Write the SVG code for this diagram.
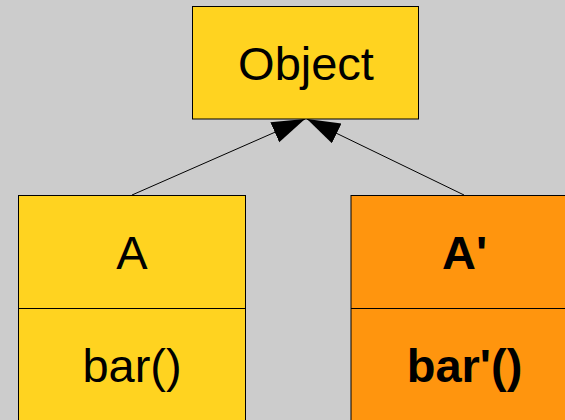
<svg xmlns="http://www.w3.org/2000/svg" width="565" height="420" viewBox="0 0 565 420">
<style>
.box{stroke:#000;stroke-width:1}
.y{fill:#ffd320}
.o{fill:#ff950e}
.t{font-family:"Liberation Sans",Arial,sans-serif;font-size:47px;fill:#000;text-anchor:middle}
.b{font-weight:bold}
.conn{stroke:#000;stroke-width:1;fill:none}
</style>
<defs>
<marker id="tri" markerUnits="userSpaceOnUse" markerWidth="34" markerHeight="24" refX="33" refY="11" orient="auto">
<path d="M0,0 L33,11 L0,22 z" fill="#000"/>
</marker>
</defs>
<rect x="0" y="0" width="565" height="420" fill="#cccccc"/>
<g id="connectors">
<line class="conn" x1="132" y1="195" x2="305" y2="119" marker-end="url(#tri)"/>
<line class="conn" x1="464" y1="195" x2="307" y2="119" marker-end="url(#tri)"/>
</g>
<g id="Object">
<rect class="box y" x="192.5" y="6.5" width="226" height="112.5"/>
<text class="t" x="306" y="80">Object</text>
</g>
<g id="A">
<rect class="box y" x="18.5" y="195.5" width="227" height="240"/>
<line class="box" x1="18.5" y1="308.5" x2="245.5" y2="308.5"/>
<text class="t" x="132" y="269">A</text>
<text class="t" x="132" y="382">bar()</text>
</g>
<g id="A2">
<rect class="box o" x="351" y="195.5" width="227" height="240"/>
<line class="box" x1="351" y1="308.5" x2="578" y2="308.5"/>
<text class="t b" x="464.5" y="269">A'</text>
<text class="t b" x="464.5" y="382">bar'()</text>
</g>
</svg>
